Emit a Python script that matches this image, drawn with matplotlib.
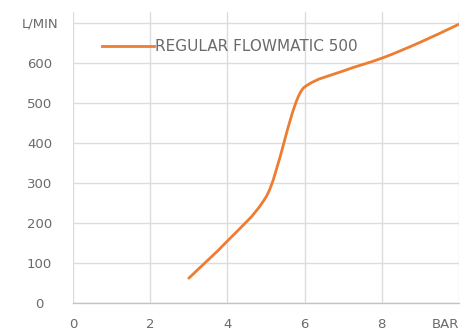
import numpy as np
import matplotlib
matplotlib.use('Agg')
import matplotlib.pyplot as plt
from matplotlib.path import Path
from matplotlib.patches import PathPatch

# --- Data ---
pressure_bar = [3, 4, 5, 6, 7, 8, 9, 10]
flow_lpm = [62, 155, 265, 540, 580, 612, 652, 697]
series_name = "REGULAR FLOWMATIC 500"

x_ticks = [0, 2, 4, 6, 8, 10]
x_tick_labels = ["0", "2", "4", "6", "8", "BAR"]
y_ticks = [0, 100, 200, 300, 400, 500, 600, 700]
y_tick_labels = ["0", "100", "200", "300", "400", "500", "600", "L/MIN"]

LINE_COLOR = '#ED7D31'
TEXT_COLOR = '#6a6a6a'
GRID_COLOR = '#dcdcdc'

plt.rcParams['font.family'] = ['DejaVu Sans']


def smooth_path(xs, ys):
    """Monotone cubic (PCHIP-like) smoothing drawn as bezier segments."""
    x = np.asarray(xs, float)
    y = np.asarray(ys, float)
    h = np.diff(x)
    d = np.diff(y) / h
    m = np.zeros_like(y)
    m[0], m[-1] = d[0], d[-1]
    for k in range(1, len(x) - 1):
        if d[k - 1] * d[k] > 0:
            w1 = 2 * h[k] + h[k - 1]
            w2 = h[k] + 2 * h[k - 1]
            m[k] = (w1 + w2) / (w1 / d[k - 1] + w2 / d[k])
    verts = [(x[0], y[0])]
    codes = [Path.MOVETO]
    for k in range(len(x) - 1):
        t = h[k] / 3.0
        verts += [(x[k] + t, y[k] + m[k] * t),
                  (x[k + 1] - t, y[k + 1] - m[k + 1] * t),
                  (x[k + 1], y[k + 1])]
        codes += [Path.CURVE4] * 3
    return Path(verts, codes)


fig = plt.figure(figsize=(4.7, 3.32), dpi=100)
ax = fig.add_axes([0.1553, 0.0873, 0.8213, 0.8766])

curve = PathPatch(smooth_path(pressure_bar, flow_lpm), facecolor='none',
                  edgecolor=LINE_COLOR, linewidth=2.0, capstyle='round')
ax.add_patch(curve)
# proxy line for the legend
ax.plot([], [], color=LINE_COLOR, linewidth=2.0, label=series_name)

ax.set_xlim(0, 10)
ax.set_ylim(0, 727.5)
ax.set_xticks(x_ticks)
ax.set_xticklabels(x_tick_labels)
ax.set_yticks(y_ticks)
ax.set_yticklabels(y_tick_labels)

ax.grid(True, color=GRID_COLOR, linewidth=1.0)
ax.set_axisbelow(True)
for side in ['top', 'right', 'left']:
    ax.spines[side].set_visible(False)
ax.spines['bottom'].set_color('#c4c4c4')
ax.spines['bottom'].set_linewidth(1.0)

ax.tick_params(axis='both', length=0, labelsize=9.5, labelcolor=TEXT_COLOR)
ax.tick_params(axis='x', pad=11)
ax.tick_params(axis='y', pad=24)
for lbl in ax.get_yticklabels():
    lbl.set_horizontalalignment('center')
# last x label would be clipped at the figure edge
ax.get_xticklabels()[-1].set_horizontalalignment('right')

leg = ax.legend(loc='center left', bbox_to_anchor=(0.075, 0.88), frameon=False,
                handlelength=3.4, handletextpad=0.05, fontsize=11,
                labelcolor=TEXT_COLOR, borderaxespad=0, borderpad=0)

fig.savefig('out.png', dpi=100)
